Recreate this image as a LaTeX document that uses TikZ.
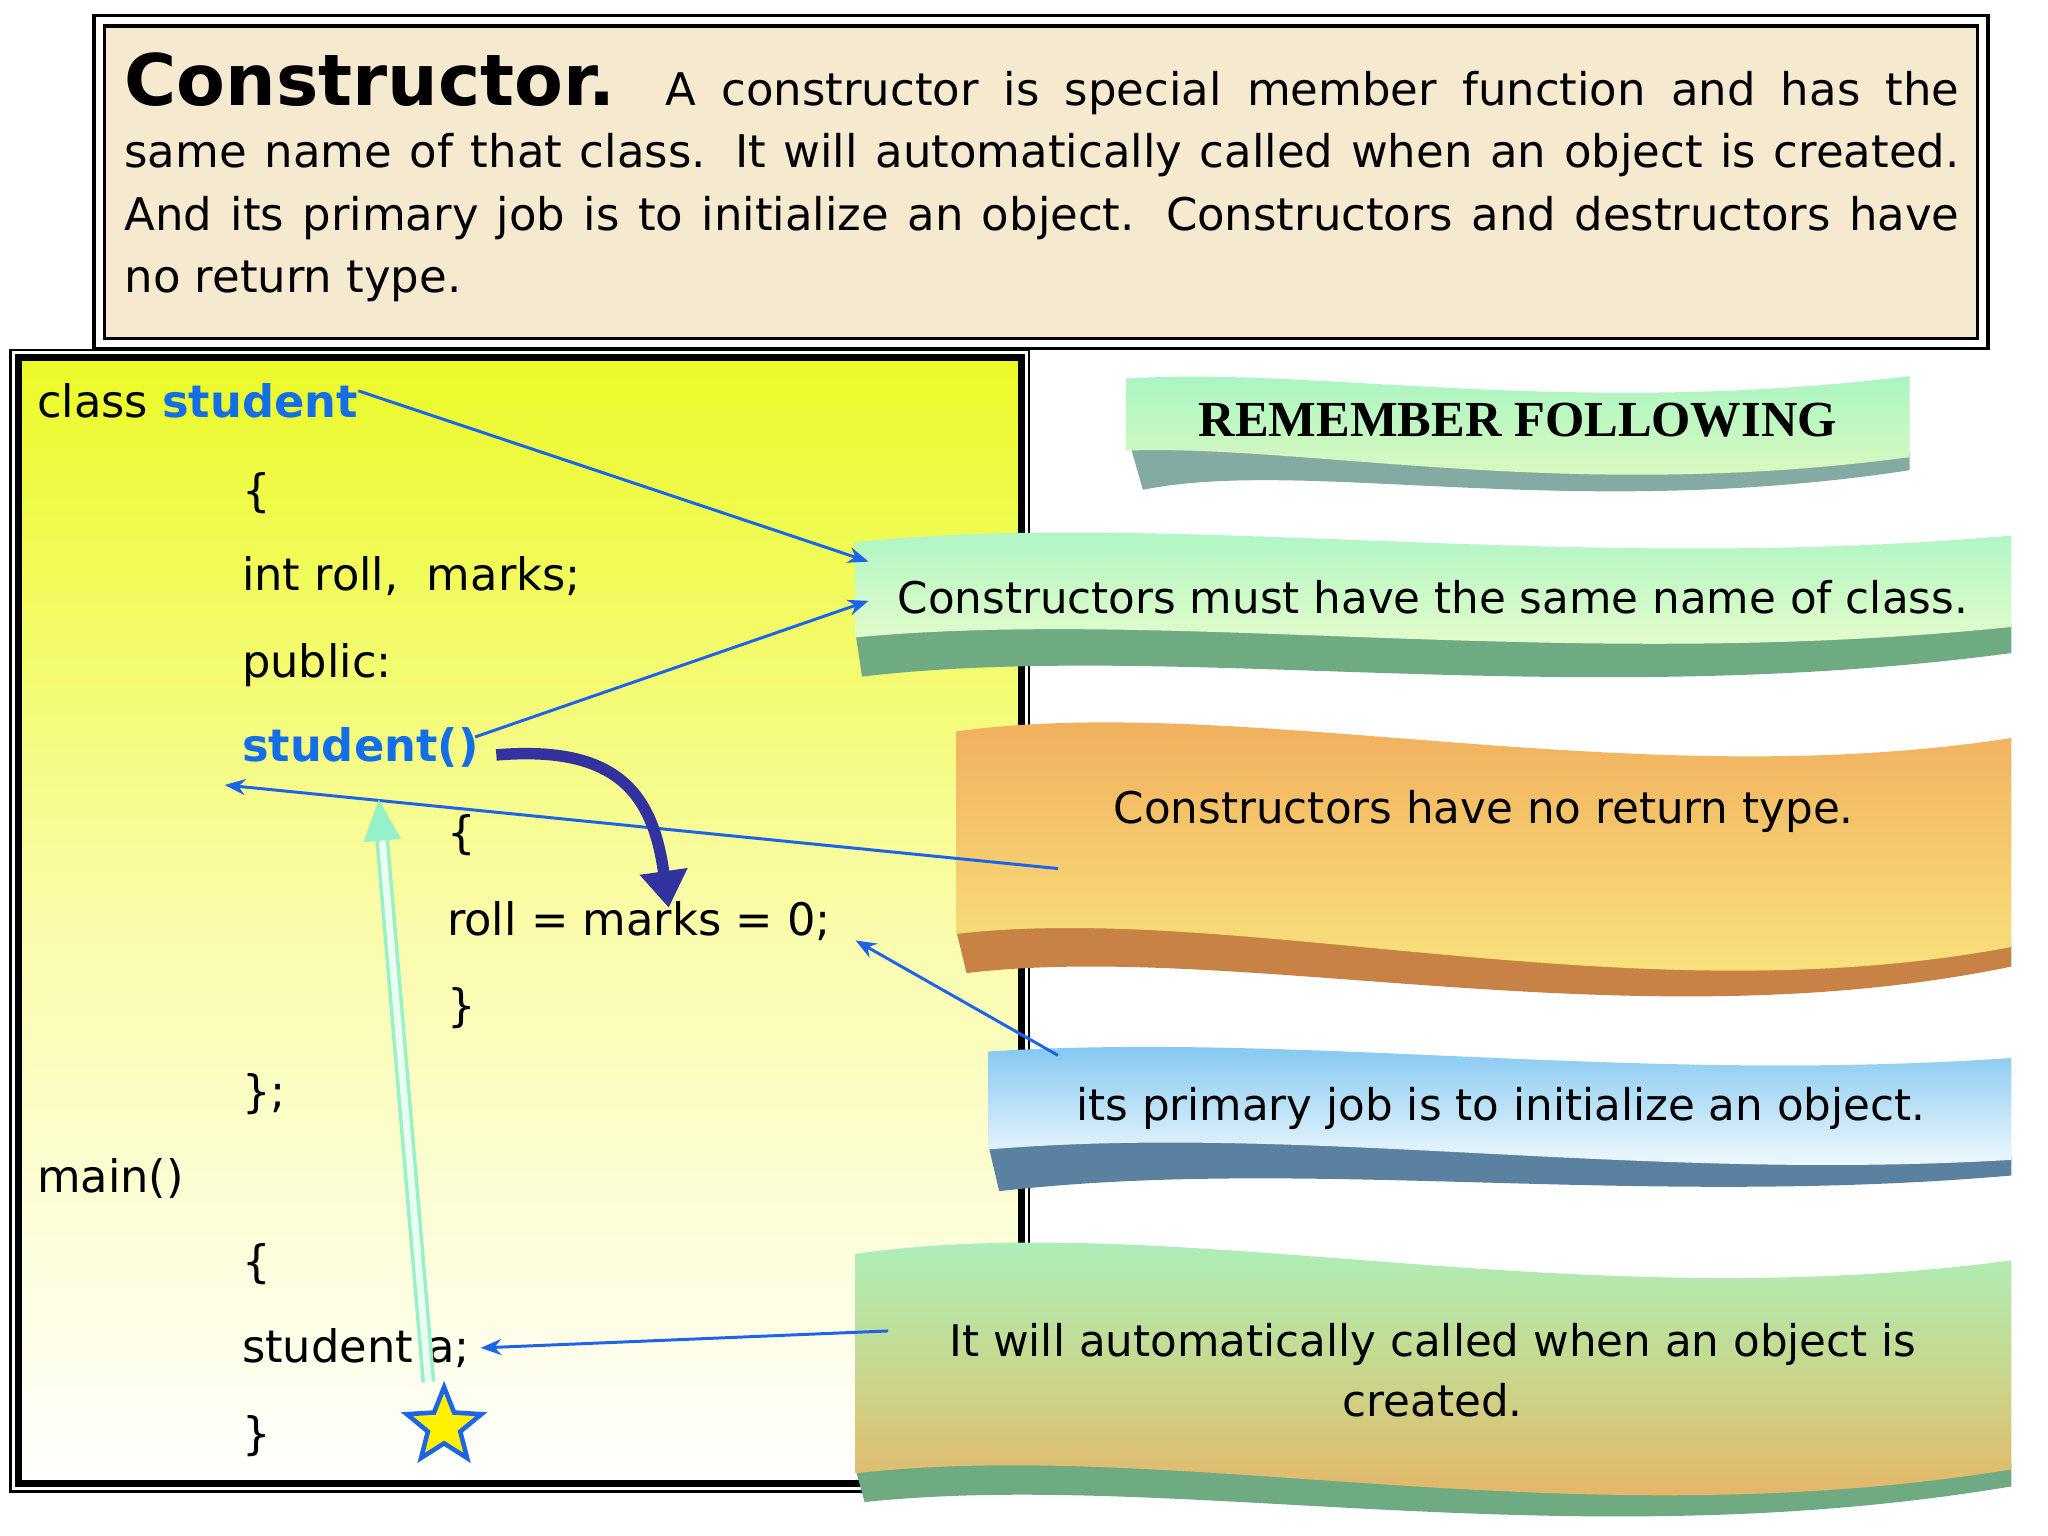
\documentclass[tikz,border=0pt]{standalone}
\usepackage{fontspec}
\setmainfont{DejaVu Sans}
\newfontfamily\serifb{Liberation Serif}
\usetikzlibrary{shapes.geometric,arrows.meta}
\definecolor{arrblue}{RGB}{30,100,230}
\definecolor{codeblue}{RGB}{20,110,230}
\definecolor{darkarr}{RGB}{50,50,160}
\definecolor{beige}{RGB}{245,233,208}
\definecolor{teal1}{RGB}{100,150,140}
\definecolor{lgreen}{RGB}{165,245,195}
\definecolor{lcyan}{RGB}{200,245,215}
\definecolor{orng}{RGB}{240,170,90}
\definecolor{ylw}{RGB}{250,235,130}
\definecolor{skyb}{RGB}{120,195,240}
\definecolor{shadeb}{RGB}{90,130,160}
\definecolor{shadeo}{RGB}{200,130,70}
\definecolor{shadeg}{RGB}{110,170,130}
\tikzset{
 code/.style={anchor=base west,inner sep=0pt,font=\fontsize{19.5}{22}\selectfont},
 bantext/.style={inner sep=0pt,font=\fontsize{19}{26}\selectfont,align=center},
 blarr/.style={arrblue,line width=1.3pt,-{Stealth[length=9pt,width=7pt]}}
}
\begin{document}
\begin{tikzpicture}[x=0.02cm,y=-0.02cm]
\useasboundingbox (0,0) rectangle (1568,1176);
% header
\draw[line width=1.5pt] (72,12) rectangle (1522,267);
\draw[line width=1.5pt,fill=beige] (80,20) rectangle (1514,259);
\node[anchor=north west,inner sep=0pt,text width=28.1cm,align=justify,font=\fontsize{19.6}{27.2}\selectfont] (head) at (95,40)
 {{\fontsize{31}{27.2}\selectfont\bfseries Constructor.}\ \ A constructor is special member function and has the\linebreak same name of that class. It will automatically called when an object is created.\linebreak And its primary job is to initialize an object. Constructors and destructors have\linebreak no return type.};
% code box
\draw[line width=1pt] (8,268) rectangle (788,1142);
\shade[top color={rgb,255:red,235;green,250;blue,40},bottom color=white,middle color={rgb,255:red,250;green,252;blue,170}] (14,274) rectangle (782,1136);
\draw[line width=3pt] (14,274) rectangle (782,1136);
\node[code] (c1) at (28,320) {class \textcolor{codeblue}{\bfseries student}};
\node[code] (c2) at (185,388) {\{};
\node[code] (c3) at (185,452) {int roll,\ \ marks;};
\node[code] (c4) at (185,519) {public:};
\node[code,text=codeblue,font=\fontsize{19.5}{22}\selectfont\bfseries] (c5) at (185,583) {student()};
\node[code] (c6) at (342,650) {\{};
\node[code] (c7) at (342,716) {roll = marks = 0;};
\node[code] (c8) at (342,782) {\}};
\node[code] (c9) at (185,848) {\};};
\node[code] (c10) at (28,913) {main()};
\node[code] (c11) at (185,978) {\{};
\node[code] (c12) at (185,1043) {student a;};
\node[code] (c13) at (185,1110) {\}};
% banner 1
\fill[teal1!80] (865,340) .. controls (1000,330) and (1200,390) .. (1462,345) -- (1462,360) .. controls (1200,400) and (1000,350) .. (875,375) -- cycle;
\shade[top color=lgreen,bottom color={rgb,255:red,230;green,250;blue,190}] (862,290) .. controls (1000,280) and (1200,320) .. (1462,288) -- (1462,350) .. controls (1200,385) and (1000,340) .. (862,345) -- cycle;
\node[bantext,font=\serifb\fontsize{22}{22}\selectfont\bfseries] (b1) at (1162,322) {REMEMBER FOLLOWING};
% banner 2
\fill[shadeg] (655,485) .. controls (900,460) and (1200,515) .. (1540,478) -- (1540,500) .. controls (1200,545) and (900,490) .. (660,518) -- cycle;
\shade[top color=lgreen,bottom color=lcyan!60!yellow!40!white] (655,415) .. controls (900,390) and (1200,440) .. (1540,410) -- (1540,480) .. controls (1200,515) and (900,465) .. (655,488) -- cycle;
\node[bantext] (b2) at (1097,457) {Constructors must have the same name of class.};
% banner 3
\fill[shadeo] (732,712) .. controls (950,690) and (1250,780) .. (1540,722) -- (1540,740) .. controls (1250,800) and (950,720) .. (740,745) -- cycle;
\shade[top color=orng,bottom color=ylw] (732,560) .. controls (950,530) and (1250,610) .. (1540,565) -- (1540,725) .. controls (1250,780) and (950,690) .. (732,715) -- cycle;
\node[bantext] (b3) at (1136,621) {Constructors have no return type.};
% banner 4
\fill[shadeb] (757,878) .. controls (1000,860) and (1250,905) .. (1540,885) -- (1540,900) .. controls (1250,925) and (1000,885) .. (765,912) -- cycle;
\shade[top color=skyb,bottom color=white] (757,805) .. controls (1000,790) and (1250,830) .. (1540,810) -- (1540,888) .. controls (1250,905) and (1000,860) .. (757,880) -- cycle;
\node[bantext] (b4) at (1149,849) {its primary job is to initialize an object.};
% banner 5
\fill[shadeg] (655,1125) .. controls (900,1100) and (1200,1180) .. (1540,1120) -- (1540,1138) .. controls (1200,1195) and (900,1125) .. (662,1150) -- cycle;
\shade[top color=lgreen,bottom color=orng,middle color={rgb,255:red,200;green,215;blue,140}] (655,960) .. controls (900,925) and (1200,1010) .. (1540,965) -- (1540,1125) .. controls (1200,1180) and (900,1100) .. (655,1128) -- cycle;
\node[bantext] (b5) at (1097,1049) {It will automatically called when an object is\\created.};
% connectors
\coordinate (a1) at (665,430);
\coordinate (a2) at (665,460);
\coordinate (s3) at (810,665); \coordinate (a3) at (172,601);
\coordinate (s4) at (810,808); \coordinate (a4) at (655,720);
\coordinate (s5) at (680,1019); \coordinate (a5) at (368,1032);
\draw[blarr] (c1.east) ++(0,-8) -- (a1);
\draw[blarr] (c5.east) ++(-3,-8) -- (a2);
\draw[blarr] (s3) -- (a3);
\draw[blarr] (s4) -- (a4);
\draw[blarr] (s5) -- (a5);
\coordinate (d1) at (380,578); \coordinate (d2) at (512,695);
\draw[darkarr,line width=5pt,-{Triangle[length=16pt,width=20pt]}] (d1) .. controls (475,570) and (500,610) .. (d2);
\coordinate (g1) at (328,1058); \coordinate (g2) at (290,612);
\draw[double={rgb,255:red,235;green,255;blue,240},double distance=3pt,draw={rgb,255:red,150;green,240;blue,200},line width=1.5pt,-{Triangle[length=18pt,width=16pt]}] (g1) -- (g2);
\node[star,star points=5,star point ratio=2.3,minimum size=1.2cm,inner sep=0pt,fill=yellow,draw=arrblue,line width=2pt] (st) at (340,1092) {};
\end{tikzpicture}
\end{document}
